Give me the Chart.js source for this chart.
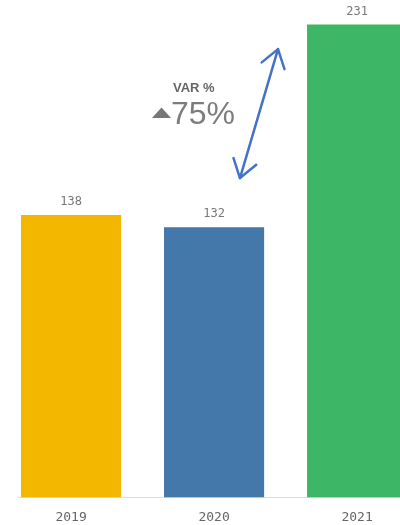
<!DOCTYPE html>
<html><head><meta charset="utf-8">
<script src="https://cdn.jsdelivr.net/npm/chart.js@4/dist/chart.umd.min.js"></script>
<style>html,body{margin:0;padding:0;background:#fff;overflow:hidden}#wrap{width:400px;height:525px;position:relative;overflow:hidden}</style>
</head><body><div id="wrap"><canvas id="c" width="400" height="537"></canvas></div>
<script>
const categories = ['2019', '2020', '2021'];
const values = [138, 132, 231];
const barColors = ['#F4B700', '#4477AA', '#3DB766'];
const varLabel = 'VAR %';
const varValue = '75%';
// arrow ends expressed in data units (x index, y value)
const arrowFrom = [1.181, 156];
const arrowTo = [1.447, 219];

const overlay = {
  id: 'overlay',
  afterDatasetsDraw(chart) {
    const ctx = chart.ctx, xs = chart.scales.x, ys = chart.scales.y;
    const meta = chart.getDatasetMeta(0);
    ctx.save();
    ctx.font = '12px "DejaVu Sans Mono", monospace';
    ctx.fillStyle = '#777';
    ctx.textAlign = 'center';
    ctx.textBaseline = 'middle';
    meta.data.forEach((bar, i) => {
      ctx.fillText(String(values[i]), bar.x, bar.y - 13);
    });
    ctx.font = 'bold 13px "Liberation Sans", Arial, sans-serif';
    ctx.fillStyle = '#666';
    ctx.textAlign = 'left';
    ctx.textBaseline = 'alphabetic';
    ctx.fillText(varLabel, 173, 92);
    ctx.font = '32px "Liberation Sans", Arial, sans-serif';
    ctx.fillStyle = '#7d7d7d';
    ctx.fillText(varValue, 171, 124);
    ctx.beginPath();
    ctx.moveTo(152, 118); ctx.lineTo(161.5, 107.5); ctx.lineTo(171, 118); ctx.closePath();
    ctx.fillStyle = '#777';
    ctx.fill();
    const x1 = xs.getPixelForValue(arrowFrom[0]), y1 = ys.getPixelForValue(arrowFrom[1]);
    const x2 = xs.getPixelForValue(arrowTo[0]), y2 = ys.getPixelForValue(arrowTo[1]);
    ctx.strokeStyle = '#4472C4';
    ctx.lineWidth = 2.5;
    ctx.lineCap = 'round';
    ctx.lineJoin = 'round';
    ctx.beginPath(); ctx.moveTo(x1, y1); ctx.lineTo(x2, y2); ctx.stroke();
    const head = (xa, ya, xb, yb) => {
      const ang = Math.atan2(yb - ya, xb - xa);
      const L = 21, a = 0.6;
      ctx.beginPath();
      ctx.moveTo(xb - L * Math.cos(ang - a), yb - L * Math.sin(ang - a));
      ctx.lineTo(xb, yb);
      ctx.lineTo(xb - L * Math.cos(ang + a), yb - L * Math.sin(ang + a));
      ctx.stroke();
    };
    head(x1, y1, x2, y2);
    head(x2, y2, x1, y1);
    ctx.restore();
  }
};

new Chart(document.getElementById('c'), {
  type: 'bar',
  data: {
    datasets: [{
      data: values.map((v, i) => ({ x: i, y: v })),
      backgroundColor: barColors,
      borderWidth: 0,
      barPercentage: 0.7,
      categoryPercentage: 1.0
    }]
  },
  options: {
    responsive: false,
    animation: false,
    layout: { padding: { left: 18, right: 0, top: 0, bottom: 0 } },
    plugins: { legend: { display: false }, tooltip: { enabled: false } },
    scales: {
      x: {
        type: 'linear',
        offset: false,
        min: -0.371,
        max: 2.30,
        grid: { display: false, drawTicks: false },
        border: { display: true, color: '#ddd', width: 1 },
        afterBuildTicks: (s) => { s.ticks = categories.map((c, i) => ({ value: i })); },
        ticks: {
          padding: 12,
          color: '#666',
          font: { family: '"DejaVu Sans Mono", monospace', size: 13 },
          callback: (v) => categories[v] ?? ''
        }
      },
      y: { display: false, min: 0, max: 243 }
    }
  },
  plugins: [overlay]
});
</script></body></html>
